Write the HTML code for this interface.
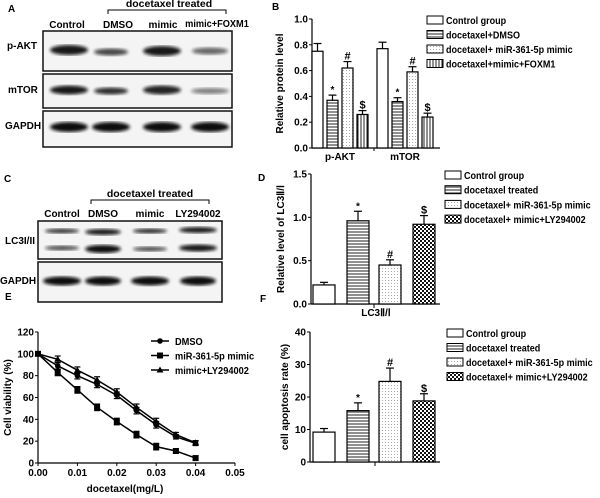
<!DOCTYPE html>
<html><head><meta charset="utf-8"><style>
body{margin:0;background:#fff}
svg{display:block;font-family:"Liberation Sans",Arial,sans-serif;font-weight:bold}
</style></head><body>
<svg id="fig" width="600" height="498" viewBox="0 0 600 498" xmlns="http://www.w3.org/2000/svg">
<defs>
<pattern id="hl" width="4" height="3" patternUnits="userSpaceOnUse"><rect width="4" height="3" fill="#fff"/><line x1="0" y1="1" x2="4" y2="1" stroke="#222" stroke-width="1"/></pattern>
<pattern id="vl" width="3" height="4" patternUnits="userSpaceOnUse"><rect width="3" height="4" fill="#fff"/><line x1="1" y1="0" x2="1" y2="4" stroke="#222" stroke-width="1"/></pattern>
<pattern id="dt" width="3" height="3" patternUnits="userSpaceOnUse"><rect width="3" height="3" fill="#fff"/><rect x="1" y="1" width="1" height="1" fill="#aaa"/></pattern>
<pattern id="ck" width="4" height="4" patternUnits="userSpaceOnUse"><rect width="4" height="4" fill="#fff"/><rect width="2" height="2" fill="#111"/><rect x="2" y="2" width="2" height="2" fill="#111"/></pattern>
<filter id="blur"><feGaussianBlur stdDeviation="1.6"/></filter>
</defs>
<g id="root"></g>
</svg>
<script>
// ---- Panel B data
const bCats = ['p-AKT','mTOR'];
const bVals = [[0.75,0.37,0.62,0.26],[0.77,0.36,0.59,0.24]];
const bErrs = [[0.06,0.04,0.05,0.03],[0.05,0.03,0.04,0.03]];
const bMarks = [['','*','#','$'],['','*','#','$']];
const bTicks = ['0.0','0.2','0.4','0.6','0.8','1.0'];
const bLegend = ['Control group','docetaxel+DMSO','docetaxel+ miR-361-5p mimic','docetaxel+mimic+FOXM1'];
// ---- Panel D data
const dVals = [0.22,0.96,0.45,0.92];
const dErrs = [0.03,0.11,0.06,0.10];
const dMarks = ['','*','#','$'];
const dTicks = ['0.0','0.5','1.0','1.5'];
const dLegend = ['Control group','docetaxel treated','docetaxel+ miR-361-5p mimic','docetaxel+ mimic+LY294002'];
// ---- Panel F data
const fVals = [9.2,15.8,24.8,18.8];
const fErrs = [1.1,2.4,4.1,2.2];
const fMarks = ['','*','#','$'];
const fTicks = ['0','10','20','30','40'];
// ---- Panel E data
const eX = [0,0.005,0.01,0.015,0.02,0.025,0.03,0.035,0.04];
const eDMSO = [100,89,80,72,62,48,35,24,18];
const eMimic = [100,83,67,51,38,26,15,11,4.5];
const eLY = [100,95,85,76,65,51,38,26,18.5];
const eErr = [0,3,3,3,3,3,3,2,2];
const eXTicks = ['0.00','0.01','0.02','0.03','0.04','0.05'];
const eYTicks = ['0','20','40','60','80','100','120'];
const eLegend = ['DMSO','miR-361-5p mimic','mimic+LY294002'];

const NS='http://www.w3.org/2000/svg';
const root=document.getElementById('root');
function mk(tag,attrs,parent,txt){const e=document.createElementNS(NS,tag);for(const k in attrs)e.setAttribute(k,attrs[k]);if(txt!==undefined)e.textContent=txt;(parent||root).appendChild(e);return e;}
function squeeze(e,f){const L=e.getComputedTextLength();if(L>0){e.setAttribute('textLength',(L*f).toFixed(1));e.setAttribute('lengthAdjust','spacingAndGlyphs');}}
const fills=['#fff','url(#hl)','url(#dt)','url(#vl)'];
const fills2=['#fff','url(#hl)','url(#dt)','url(#ck)'];

function label(t,x,y){const e=mk('text',{x:x,y:y,'font-size':10},root,t);

}
label('A',8,12);label('B',272,10);label('C',4,182);label('D',258,181);label('E',5,300);label('F',260,302);

function yAxis(x,y0,y1,ticks,name,title,tx){
  const g=mk('g',{});
  
  
  mk('line',{x1:x,y1:y0,x2:x,y2:y1,stroke:'#000','stroke-width':1.2},g);
  ticks.forEach((t,i)=>{const y=y0+(y1-y0)*i/(ticks.length-1);
    mk('line',{x1:x-3,y1:y,x2:x,y2:y,stroke:'#000'},g);
    mk('text',{x:x-4,y:y+3.5,'font-size':10,'text-anchor':'end'},g,t);});
  const ty=(y0+y1)/2;
  const tt=mk('text',{x:tx,y:ty,'font-size':10,'text-anchor':'middle',transform:`rotate(-90 ${tx} ${ty})`},g,title);
  
  
}
function bar(x,w,y0,yv,yt,fill,mark,name){
  const r=mk('rect',{x:x,y:yv,width:w,height:y0-yv,fill:fill,stroke:'#000','stroke-width':1.2});
  
  
  const cx=x+w/2;
  mk('line',{x1:cx,y1:yv,x2:cx,y2:yt,stroke:'#000','stroke-width':1.2});
  mk('line',{x1:cx-4,y1:yt,x2:cx+4,y2:yt,stroke:'#000','stroke-width':1.2});
  if(mark){mk('text',{x:cx,y:yt-2,'font-size':mark==='*'?10:11,'text-anchor':'middle'},root,mark);}
}
function legend(x,y,dy,items,fl,name){
  items.forEach((t,i)=>{
    const r=mk('rect',{x:x,y:y+i*dy-4,width:16,height:8,fill:fl[i],stroke:'#000'});
    
    
    const e=mk('text',{x:x+19,y:y+i*dy+4,'font-size':10.5},root,t);
    
    
    squeeze(e,0.86);
  });
}

// ---- Panel B
{const X=312,Y0=148,Y1=19;const sy=v=>Y0-(Y0-Y1)*v/1.0;
 yAxis(X,Y0,Y1,bTicks,'b-y-axis','Relative protein level',283);
 mk('line',{x1:X,y1:Y0,x2:440,y2:Y0,stroke:'#000','stroke-width':1.2});
 const starts=[312,377];
 bCats.forEach((c,gi)=>{
   bVals[gi].forEach((v,i)=>bar(starts[gi]+i*15,11,Y0,sy(v),sy(v+bErrs[gi][i]),fills[i],bMarks[gi][i],'b-bar-'+c+'-'+i));
   const t=mk('text',{x:starts[gi]+28,y:160,'font-size':10,'text-anchor':'middle'},root,c);
   
 });
 mk('line',{x1:374,y1:Y0,x2:374,y2:Y0+3,stroke:'#000'});
 legend(427,20,14.5,bLegend,fills,'b-legend');}

// ---- Panel D
{const X=311,Y0=304,Y1=174;const sy=v=>Y0-(Y0-Y1)*v/1.5;
 yAxis(X,Y0,Y1,dTicks,'d-y-axis','Relative  level of LC3Ⅱ/Ⅰ',284);
 mk('line',{x1:X,y1:Y0,x2:440,y2:Y0,stroke:'#000','stroke-width':1.2});
 mk('line',{x1:374,y1:Y0,x2:374,y2:Y0+4,stroke:'#000'});
 const xs=[313,347,379,413];
 dVals.forEach((v,i)=>bar(xs[i],22,Y0,sy(v),sy(v+dErrs[i]),fills2[i],dMarks[i],'d-bar-'+i));
 const t=mk('text',{x:376,y:316,'font-size':10,'text-anchor':'middle'},root,'LC3Ⅱ/Ⅰ');
 
 legend(445,175,14.7,dLegend,fills2,'d-legend');}

// ---- Panel F
{const X=310,Y0=462,Y1=332;const sy=v=>Y0-(Y0-Y1)*v/40;
 yAxis(X,Y0,Y1,fTicks,'f-y-axis','cell apoptosis rate (%)',288);
 mk('line',{x1:X,y1:Y0,x2:440,y2:Y0,stroke:'#000','stroke-width':1.2});
 mk('line',{x1:375,y1:Y0,x2:375,y2:Y0+4,stroke:'#000'});
 const xs=[313,347,379,413];
 fVals.forEach((v,i)=>bar(xs[i],22,Y0,sy(v),sy(v+fErrs[i]),fills2[i],fMarks[i],'f-bar-'+i));
 legend(447,333,14.5,dLegend,fills2,'f-legend');}

// ---- Panel E
{const X=38,X1=235,Y0=463,Y1=332;
 const sx=v=>X+(X1-X)*v/0.05, sy=v=>Y0-(Y0-Y1)*v/120;
 yAxis(X,Y0,Y1,eYTicks,'e-y-axis','Cell viability (%)',11);
 const g=mk('g',{});
 mk('line',{x1:X,y1:Y0,x2:X1,y2:Y0,stroke:'#000','stroke-width':1.2},g);
 eXTicks.forEach((t,i)=>{const x=X+(X1-X)*i/(eXTicks.length-1);
   mk('line',{x1:x,y1:Y0,x2:x,y2:Y0+3,stroke:'#000'},g);
   mk('text',{x:x,y:Y0+13,'font-size':10,'text-anchor':'middle'},g,t);});
 const xt=mk('text',{x:125,y:492,'font-size':10,'text-anchor':'middle'},root,'docetaxel(mg/L)');
 
 const series=[eDMSO,eMimic,eLY], shapes=['c','s','t'];
 function marker(x,y,s,p){
   if(s==='c')return mk('circle',{cx:x,cy:y,r:2.8,fill:'#000'},p);
   if(s==='s')return mk('rect',{x:x-3,y:y-3,width:6,height:6,fill:'#000'},p);
   return mk('polygon',{points:`${x},${y-3.5} ${x-3.5},${y+2.5} ${x+3.5},${y+2.5}`,fill:'#000'},p);
 }
 series.forEach((d,si)=>{
   const sg=mk('g',{});
   
   
   mk('polyline',{points:d.map((v,i)=>sx(eX[i])+','+sy(v)).join(' '),fill:'none',stroke:'#000','stroke-width':1.5},sg);
   d.forEach((v,i)=>{const x=sx(eX[i]);
     if(eErr[i]){mk('line',{x1:x,y1:sy(v-eErr[i]),x2:x,y2:sy(v+eErr[i]),stroke:'#000','stroke-width':1.2},sg);
       mk('line',{x1:x-3,y1:sy(v+eErr[i]),x2:x+3,y2:sy(v+eErr[i]),stroke:'#000','stroke-width':1.2},sg);
       mk('line',{x1:x-3,y1:sy(v-eErr[i]),x2:x+3,y2:sy(v-eErr[i]),stroke:'#000','stroke-width':1.2},sg);}
     marker(x,sy(v),shapes[si],sg);});
 });
 eLegend.forEach((t,i)=>{const y=341+i*14.5;
   mk('line',{x1:151,y1:y,x2:169,y2:y,stroke:'#000','stroke-width':1.5});
   marker(160,y,shapes[i],root);
   const e=mk('text',{x:175,y:y+4,'font-size':10.5},root,t);
   
   squeeze(e,0.88);});
}

// ---- Blots
function blotRow(x,y,w,h,bands,name){
  const g=mk('g',{});
  mk('rect',{x:x,y:y,width:w,height:h,fill:'#f4f4f4',stroke:'#111','stroke-width':1.5},g);
  bands.forEach(b=>mk('ellipse',{cx:b[0],cy:b[1],rx:b[2],ry:b[3],fill:'#111',opacity:b[4],filter:'url(#blur)'},g));
}
function bracket(x1,x2,y,t,tx,name){
  mk('path',{d:`M${x1},${y+4} V${y} H${x2} V${y+4}`,fill:'none',stroke:'#000'});
  const e=mk('text',{x:tx,y:y-3,'font-size':10.5,'text-anchor':'middle'},root,t);
  
}
function txt(t,x,y,name,anchor){const e=mk('text',{x:x,y:y,'font-size':10,'text-anchor':anchor||'middle'},root,t);
  return e;}
// Panel A
bracket(108,226,10,'docetaxel treated',169,'a-treated-label');
txt('Control',67,28,'a-lane-control');txt('DMSO',118,28,'a-lane-dmso');txt('mimic',163,28,'a-lane-mimic');squeeze(txt('mimic+FOXM1',217,27,'a-lane-foxm1'),0.92);
blotRow(43,31,189,40,[[69,50,19,5,0.95],[111,52,17,3.5,0.75],[162,51,19,5,0.95],[210,51,18,3.5,0.6]],'a-blot-pakt');
blotRow(43,74,189,34,[[69,90,19,4.5,0.95],[111,91,17,3.5,0.85],[162,90,19,4.5,0.9],[210,91,19,3,0.5]],'a-blot-mtor');
blotRow(43,111,189,36,[[69,127,19,5,1],[111,127,19,5,1],[162,127,19,5,1],[210,127,19,5,1]],'a-blot-gapdh');
txt('p-AKT',7,49,'a-row-pakt','start');txt('mTOR',8,93,'a-row-mtor','start');txt('GAPDH',5,129,'a-row-gapdh','start');
// Panel C
bracket(91,209,200,'docetaxel treated',150,'c-treated-label');
txt('Control',62,217,'c-lane-control');txt('DMSO',103,217,'c-lane-dmso');txt('mimic',150,217,'c-lane-mimic');txt('LY294002',198,217,'c-lane-ly');
blotRow(38,221,184,38,[[62,231,17,2.5,0.8],[103,232,18,3,0.95],[150,231,17,2.5,0.85],[198,230,19,3,0.95],[62,248,17,2.5,0.7],[103,249,18,4,1],[150,249,17,2.5,0.7],[198,248,19,3.5,0.95]],'c-blot-lc3');
blotRow(38,262,184,40,[[62,281,19,4.5,1],[103,281,18,4.5,1],[150,281,19,4.5,1],[198,281,18,4.5,1]],'c-blot-gapdh');
txt('LC3I/II',5,244,'c-row-lc3','start');txt('GAPDH',0,284,'c-row-gapdh','start');
</script>
</body></html>
